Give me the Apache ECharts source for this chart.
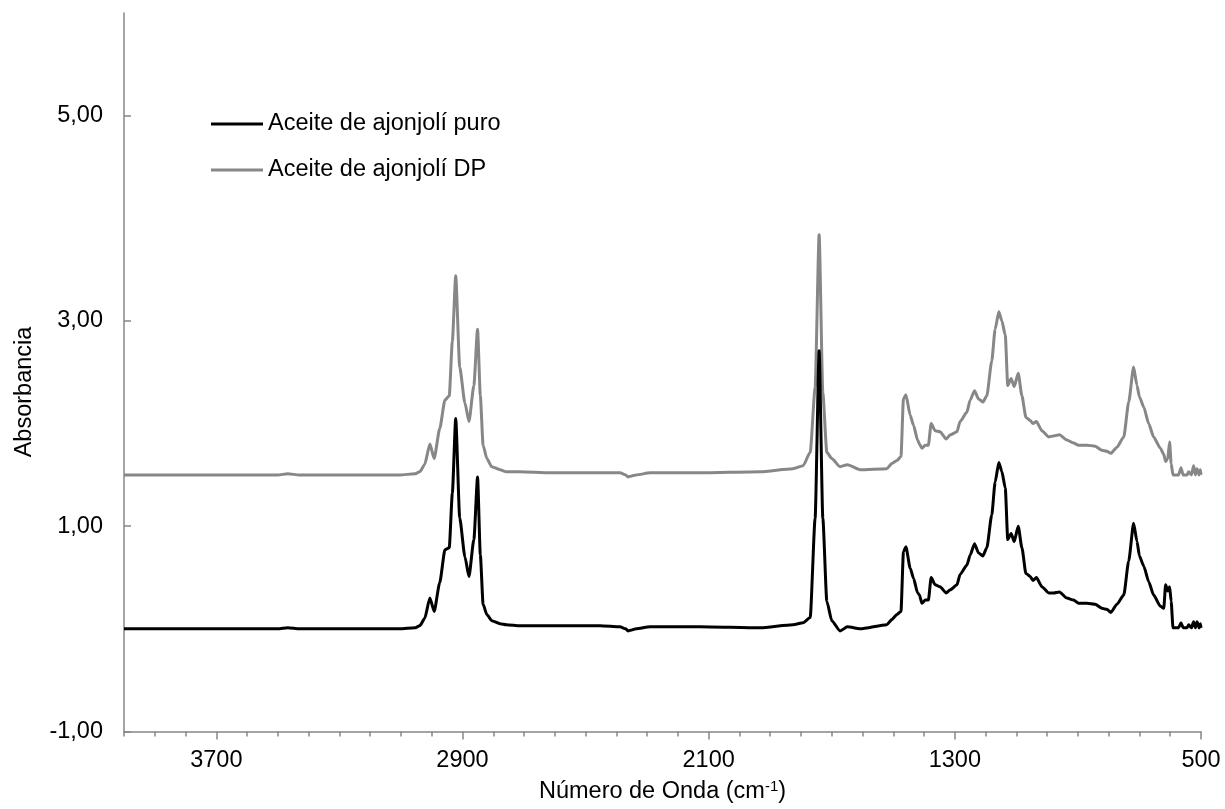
<!DOCTYPE html>
<html>
<head>
<meta charset="utf-8">
<script src="https://cdn.jsdelivr.net/npm/echarts@6/dist/echarts.min.js"></script>
<style>
html,body{margin:0;padding:0;background:#fff;}
#chart{width:1225px;height:809px;}
</style>
</head>
<body>
<div id="chart"></div>
<script>
const seriesNames = ['Aceite de ajonjolí puro', 'Aceite de ajonjolí DP'];
const xTickLabels = [500, 1300, 2100, 2900, 3700];
const yTickLabels = [-1, 1, 3, 5];

const wavenumber = [
  4000, 3754, 3500, 3468, 3430, 3266, 3104, 3055, 3039, 3023, 3006, 2992, 2974, 2957, 2943, 2933,
  2922, 2909, 2892, 2879, 2863, 2851, 2842, 2833, 2821, 2805, 2778, 2757, 2713, 2616, 2453, 2388,
  2370, 2362, 2350, 2336, 2290, 2128, 1933, 1826, 1793, 1770, 1754, 1741, 1729, 1716, 1700, 1673,
  1649, 1608, 1521, 1505, 1488, 1475, 1467, 1459, 1445, 1434, 1421, 1415, 1407, 1396, 1386, 1377,
  1364, 1348, 1328, 1315, 1293, 1283, 1261, 1250, 1236, 1223, 1209, 1196, 1180, 1169, 1157, 1147,
  1136, 1128, 1117, 1107, 1094, 1082, 1069, 1055, 1046, 1035, 1017, 995, 979, 960, 936, 914,
  898, 871, 844, 822, 806, 793, 773, 751, 735, 719, 708, 700, 686, 670, 654, 632,
  621, 615, 608, 602, 597, 591, 573, 565, 558, 545, 540, 531, 524, 518, 513, 506,
  502, 500
];

const pureOil = [
  0.00, 0.00, 0.00, 0.01, 0.00, 0.00, 0.00, 0.01, 0.03, 0.10, 0.30, 0.17, 0.45, 0.77, 0.79, 1.32,
  2.05, 1.08, 0.70, 0.51, 0.87, 1.48, 0.72, 0.24, 0.14, 0.08, 0.05, 0.04, 0.03, 0.03, 0.03, 0.02,
  0.00, -0.02, -0.01, 0.00, 0.02, 0.02, 0.01, 0.04, 0.06, 0.11, 1.08, 2.71, 1.08, 0.27, 0.08, -0.02,
  0.02, 0.00, 0.04, 0.09, 0.14, 0.17, 0.75, 0.80, 0.59, 0.49, 0.35, 0.33, 0.25, 0.28, 0.28, 0.50,
  0.43, 0.41, 0.35, 0.38, 0.43, 0.53, 0.62, 0.72, 0.83, 0.74, 0.71, 0.79, 1.11, 1.43, 1.62, 1.53,
  1.37, 0.87, 0.93, 0.85, 1.00, 0.79, 0.54, 0.51, 0.47, 0.50, 0.41, 0.35, 0.35, 0.36, 0.30, 0.28,
  0.25, 0.25, 0.24, 0.20, 0.19, 0.16, 0.24, 0.33, 0.66, 1.03, 0.85, 0.71, 0.61, 0.46, 0.33, 0.22,
  0.20, 0.43, 0.37, 0.41, 0.27, 0.01, 0.01, 0.06, 0.01, 0.01, 0.04, 0.01, 0.07, 0.01, 0.07, 0.01,
  0.05, 0.01
];

const dpOil = [
  1.50, 1.50, 1.50, 1.51, 1.50, 1.50, 1.50, 1.51, 1.53, 1.60, 1.80, 1.66, 1.95, 2.23, 2.27, 2.80,
  3.44, 2.55, 2.20, 2.02, 2.37, 2.92, 2.27, 1.79, 1.66, 1.58, 1.55, 1.53, 1.53, 1.52, 1.52, 1.52,
  1.50, 1.48, 1.49, 1.50, 1.52, 1.52, 1.53, 1.56, 1.59, 1.72, 2.35, 3.84, 2.30, 1.72, 1.66, 1.58,
  1.60, 1.55, 1.56, 1.61, 1.64, 1.68, 2.24, 2.28, 2.08, 1.98, 1.84, 1.80, 1.76, 1.79, 1.79, 2.00,
  1.93, 1.92, 1.85, 1.89, 1.92, 2.02, 2.11, 2.23, 2.32, 2.24, 2.21, 2.27, 2.61, 2.92, 3.09, 3.00,
  2.86, 2.37, 2.44, 2.36, 2.49, 2.27, 2.06, 2.03, 2.00, 2.02, 1.93, 1.87, 1.88, 1.89, 1.84, 1.81,
  1.79, 1.79, 1.78, 1.74, 1.73, 1.71, 1.77, 1.87, 2.21, 2.55, 2.37, 2.26, 2.16, 2.00, 1.87, 1.76,
  1.70, 1.63, 1.66, 1.82, 1.61, 1.50, 1.50, 1.57, 1.50, 1.50, 1.53, 1.50, 1.59, 1.50, 1.56, 1.50,
  1.55, 1.50
];

const FONT = '"Liberation Sans", Arial, sans-serif';
const FS = 23.5;
const AXIS_COLOR = '#878787';

const chart = echarts.init(document.getElementById('chart'), null, {renderer: 'canvas'});

const toPairs = vals => wavenumber.map((w, i) => [w, vals[i]]);

const legendBase = {
  orient: 'vertical', icon: 'rect', itemWidth: 52, itemHeight: 3,
  textStyle: {fontFamily: FONT, fontSize: FS, color: '#000'}
};

const option = {
  animation: false,
  backgroundColor: '#ffffff',
  textStyle: {fontFamily: FONT},
  grid: {left: 124, right: 24, top: 13, bottom: 76, containLabel: false},
  legend: [
    Object.assign({}, legendBase, {data: [seriesNames[0]], left: 206, top: 107}),
    Object.assign({}, legendBase, {data: [seriesNames[1]], left: 206, top: 153})
  ],
  xAxis: [
    {
      type: 'value', inverse: true, min: 500, max: 4000, interval: 100,
      position: 'bottom',
      axisLine: {show: true, onZero: false, lineStyle: {color: AXIS_COLOR, width: 1.5}},
      axisTick: {show: true, length: 5, lineStyle: {color: AXIS_COLOR, width: 1.5}},
      axisLabel: {show: false},
      splitLine: {show: false}
    },
    {
      type: 'value', inverse: true, min: 500, max: 4000,
      position: 'bottom',
      axisLine: {show: false, onZero: false},
      axisTick: {show: true, length: 8, customValues: xTickLabels, lineStyle: {color: AXIS_COLOR, width: 1.5}},
      axisLabel: {
        show: true, customValues: xTickLabels, margin: 17, fontSize: FS, color: '#000', fontFamily: FONT,
        formatter: v => String(v)
      },
      splitLine: {show: false},
      name: 'Número de Onda (cm{sup|-1})',
      nameLocation: 'middle', nameGap: 48,
      nameTextStyle: {
        fontSize: FS, color: '#000', fontFamily: FONT,
        rich: {sup: {fontSize: 15, verticalAlign: 'top', padding: [0, 0, 10, 0], color: '#000', fontFamily: FONT}}
      }
    }
  ],
  yAxis: {
    type: 'value', min: -1, max: 6,
    axisLine: {show: true, onZero: false, lineStyle: {color: AXIS_COLOR, width: 1.5}},
    axisTick: {show: true, inside: true, length: 7, customValues: yTickLabels, lineStyle: {color: AXIS_COLOR, width: 1.5}},
    axisLabel: {
      show: true, customValues: yTickLabels, margin: 21, fontSize: FS, color: '#000', fontFamily: FONT,
      formatter: v => v.toFixed(2).replace('.', ',')
    },
    splitLine: {show: false}
  },
  graphic: [
    {
      type: 'text', x: 25, y: 392, rotation: Math.PI / 2,
      style: {text: 'Absorbancia', font: FS + 'px ' + FONT, fill: '#000', align: 'center', verticalAlign: 'middle'}
    }
  ],
  series: [
    {
      name: seriesNames[0], type: 'line', xAxisIndex: 0, yAxisIndex: 0,
      data: toPairs(pureOil), showSymbol: false, symbol: 'none',
      smooth: 0.2, smoothMonotone: 'x',
      lineStyle: {color: '#000000', width: 3}, itemStyle: {color: '#000000'}, z: 3
    },
    {
      name: seriesNames[1], type: 'line', xAxisIndex: 0, yAxisIndex: 0,
      data: toPairs(dpOil), showSymbol: false, symbol: 'none',
      smooth: 0.2, smoothMonotone: 'x',
      lineStyle: {color: '#878787', width: 3}, itemStyle: {color: '#878787'}, z: 2
    }
  ]
};

chart.setOption(option);
</script>
</body>
</html>
